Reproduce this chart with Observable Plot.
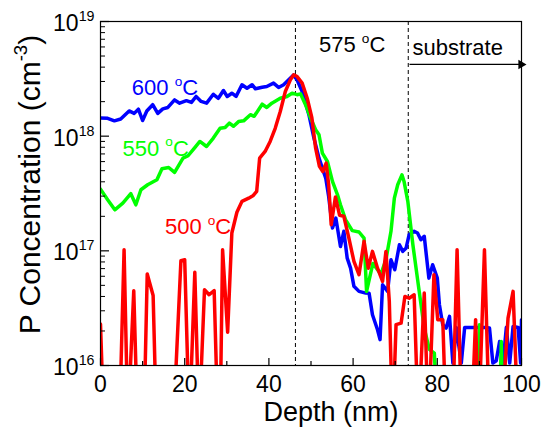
<!DOCTYPE html>
<html><head><meta charset="utf-8">
<script src="https://cdn.jsdelivr.net/npm/d3@7"></script>
<script src="https://cdn.jsdelivr.net/npm/@observablehq/plot@0.6"></script>
<style>html,body{margin:0;padding:0;background:#fff}svg{display:block}</style>
</head><body><div id="chart"></div>
<script>
// values below the 1e16 floor of the axis (drawn off-frame, clipped)
const LOW = 3e15;

// 600 °C profile
const depth600 = [0,1.7,3.3,4.8,6.8,8.0,9.0,10.0,11.0,12.4,13.6,14.8,16.0,17.6,18.8,20.4,21.6,22.7,23.9,25.2,26.8,28.0,29.2,30.1,31.2,32.2,33.6,34.8,36.0,36.8,38.4,39.5,41.1,42.3,43.5,44.7,45.8,46.6,47.9,49.5,50.7,51.9,52.7,53.5,54.2,55.1,55.9,57.0,57.8,58.6,59.4,60.2,61.4,63.0,63.8,64.6,65.8,66.4,67.0,68.2,69.0,69.9,71.0,71.8,72.6,73.3,74.5,75.3,76.1,76.9,78.0,78.9,80.0,80.5,81.3,82.1,82.9,83.7,84.5,85.7,86.5,88.5,91.2,92.4,93.2,94.0,94.8,95.6,96.4,97.2,98.0,99.2,99.8,100];
const conc600 = [1.44e18,1.43e18,1.36e18,1.41e18,1.66e18,1.58e18,1.72e18,1.37e18,1.66e18,1.88e18,1.58e18,1.73e18,1.78e18,2.07e18,1.94e18,2.04e18,1.97e18,2.22e18,2.01e18,1.94e18,2.32e18,2.14e18,2.50e18,2.22e18,2.37e18,2.22e18,2.81e18,2.62e18,2.81e18,2.59e18,2.67e18,2.71e18,2.90e18,2.66e18,2.81e18,3.10e18,3.40e18,3.15e18,2.45e18,1.54e18,9.62e17,6.43e17,5.26e17,4.31e17,2.98e17,1.58e17,1.93e17,1.09e17,1.48e17,8.63e16,7.06e16,4.90e16,4.43e16,4.28e16,4.26e16,2.77e16,2.05e16,1.68e16,5.06e16,4.43e16,8.36e16,6.84e16,1.13e17,9.89e16,1.06e17,1.38e17,1.48e17,1.43e17,1.25e17,1.34e17,5.78e16,7.57e16,5.78e16,3.39e16,2.27e16,2.12e16,2.68e16,1.05e16,2.15e16,1.05e16,2.15e16,2.15e16,2.15e16,2.12e16,1.05e16,1.10e16,1.62e16,1.05e16,2.15e16,1.05e16,2.19e16,2.15e16,1.05e16,2.50e16];

// 550 °C profile
const depth550 = [0,1.7,3.4,5.3,7.2,8.4,9.6,11.2,13.4,14.6,16.2,17.6,19.6,20.8,22.4,23.6,25.2,26.8,28.4,29.6,30.6,31.6,32.8,34.0,35.6,36.5,38.4,39.5,40.7,42.7,44.3,45.5,46.7,47.5,48.7,49.9,51.1,51.9,52.7,53.9,55.1,56.3,57.0,58.2,59.8,61.4,62.6,63.2,64.7,66.6,67.8,69.0,69.8,70.6,71.6,72.1,73.0,74.2,75.7,76.9,78.1,79.3,80.1,89.5,90.0,90.5,94.7,95.2,95.7,100];
const conc550 = [3.45e17,2.79e17,2.28e17,2.61e17,3.15e17,2.52e17,3.41e17,3.77e17,4.17e17,5.20e17,5.33e17,4.83e17,6.43e17,6.75e17,7.96e17,8.99e17,8.13e17,9.62e17,1.17e18,1.19e18,1.30e18,1.22e18,1.34e18,1.36e18,1.54e18,1.49e18,1.90e18,1.78e18,1.94e18,2.14e18,2.22e18,2.37e18,2.30e18,2.34e18,1.88e18,1.44e18,1.14e18,1.03e18,7.11e17,6.01e17,4.03e17,3.08e17,2.52e17,1.87e17,1.50e17,1.46e17,1.29e17,4.43e16,7.76e16,6.27e16,8.36e16,1.48e17,2.88e17,3.77e17,4.60e17,4.03e17,2.70e17,1.13e17,4.43e16,2.12e16,1.38e16,1.28e16,LOW,LOW,2.27e16,LOW,LOW,1.62e16,LOW,LOW];

// 500 °C profile
const depth500 = [0,0.8,4.5,5.6,6.5,7.9,8.8,10.3,11.1,12.5,13.3,17.3,19.1,20.0,21.1,22.4,23.4,24.7,25.8,27.0,27.9,28.4,29.0,30.2,31.2,32.4,33.6,35.2,36.3,37.1,37.8,39.1,40.3,41.5,42.7,43.9,45.1,45.9,46.7,47.9,49.1,50.2,51.1,52.0,52.8,53.6,54.2,54.8,55.8,56.8,57.8,59.0,60.2,61.4,62.6,63.6,64.6,65.8,67.0,67.8,68.6,69.4,70.2,71.4,72.3,73.3,74.5,75.5,76.9,77.9,79.2,80.1,81.3,82.1,83.6,84.7,85.8,88.1,89.1,89.8,91.2,92.4,95.2,96.8,98.0,99.2,100];
const conc500 = [2.30e16,LOW,LOW,1.02e17,LOW,4.49e16,LOW,LOW,6.27e16,4.08e16,LOW,LOW,8.20e16,8.36e16,LOW,6.49e16,LOW,4.58e16,4.14e16,4.49e16,LOW,LOW,1.02e17,1.95e16,1.43e17,2.17e17,2.70e17,2.88e17,3.04e17,3.30e17,6.43e17,7.36e17,8.99e17,1.17e18,1.64e18,2.45e18,3.10e18,3.43e18,3.31e18,2.90e18,2.14e18,1.45e18,7.85e17,5.45e17,4.92e17,5.82e17,3.77e17,1.69e17,2.95e17,2.04e17,2.00e17,1.29e17,8.09e16,6.19e16,1.21e17,7.06e16,9.89e16,7.06e16,5.41e16,9.89e16,3.62e16,LOW,2.27e16,2.34e16,4.00e16,3.86e16,4.14e16,LOW,4.28e16,LOW,6.19e16,2.51e16,2.51e16,LOW,LOW,1.02e17,LOW,LOW,2.51e16,LOW,1.02e17,LOW,LOW,2.59e16,4.43e16,LOW,LOW];

// region boundaries (nm) and tick values
const boundaries = [46.3, 73.1];
const xMajor = [0, 20, 40, 60, 80, 100];
const xMinor = [10, 30, 50, 70, 90];
const yMajor = [1e16, 1e17, 1e18, 1e19];
const yMinor = [];
for (const e of [16, 17, 18]) for (let k = 2; k <= 9; k++) yMinor.push(k * 10 ** e);

const W = 542, H = 427, mL = 100, mR = 21, mT = 21, mB = 62;
const frameW = W - mL - mR, frameH = H - mT - mB;
const rows = (xs, ys) => xs.map((x, i) => ({depth: x, conc: ys[i]}));
const series = [
  {color: "#0000ff", data: rows(depth600, conc600)},
  {color: "#00ff00", data: rows(depth550, conc550)},
  {color: "#ff0000", data: rows(depth500, conc500)}
];

const labels = [
  {t: "600 ^{o}C", x: 7.44, y: 2.27e18, c: "#0000ff"},
  {t: "550 ^{o}C", x: 5.23, y: 6.78e17, c: "#00ff00"},
  {t: "500 ^{o}C", x: 15.3, y: 1.39e17, c: "#ff0000"},
  {t: "575 ^{o}C", x: 51.9, y: 5.40e18, c: "black"},
  {t: "substrate", x: 74.1, y: 5.13e18, c: "black"}
];

const plot = Plot.plot({
  width: W, height: H,
  marginLeft: mL, marginRight: mR, marginTop: mT, marginBottom: mB,
  style: {fontFamily: "Arial, 'Liberation Sans', Helvetica, sans-serif", fontSize: "23px", color: "black", background: "white", overflow: "visible"},
  x: {domain: [0, 100]},
  y: {type: "log", domain: [1e16, 1e19]},
  marks: [
    Plot.ruleX(boundaries, {stroke: "black", strokeWidth: 1, strokeDasharray: "4,3"}),
    ...series.map(s => Plot.line(s.data, {x: "depth", y: "conc", stroke: s.color, strokeWidth: 3.5, clip: true})),
    Plot.ruleX(xMajor, {insetTop: frameH - 7, stroke: "black", strokeWidth: 1.2}),
    Plot.ruleX(xMinor, {insetTop: frameH - 4, stroke: "black", strokeWidth: 1.2}),
    Plot.ruleY(yMajor, {insetRight: frameW - 9, stroke: "black", strokeWidth: 1.2}),
    Plot.ruleY(yMinor, {insetRight: frameW - 5, stroke: "black", strokeWidth: 1}),
    Plot.frame({stroke: "black", strokeWidth: 1.2}),
    Plot.axisX({ticks: xMajor, tickSize: 0, tickPadding: 10, label: null, fontSize: 23}),
    Plot.axisY({ticks: yMajor, tickSize: 0, tickPadding: 6, label: null, fontSize: 23, dy: 2,
      tickFormat: d => `10^{${Math.round(Math.log10(d))}}`}),
    Plot.text(["Depth (nm)"], {frameAnchor: "bottom", lineAnchor: "bottom", textAnchor: "middle", dx: 20, dy: 55, fontSize: 27}),
    Plot.text(["P Concentration (cm^{-3})"], {frameAnchor: "left", textAnchor: "middle", lineAnchor: "middle", rotate: -90, dx: -70, dy: -9, fontSize: 30}),
    Plot.text(labels, {x: "x", y: "y", text: "t", fill: "c", fontSize: 22, textAnchor: "start", lineAnchor: "bottom"}),
    Plot.link([{x1: 73.4, x2: 99.4, y: 4.22e18}], {x1: "x1", x2: "x2", y1: "y", y2: "y", stroke: "black", strokeWidth: 1.3}),
    Plot.dot([{x: 99.9, y: 4.22e18}], {x: "x", y: "y", symbol: "triangle", rotate: 90, r: 3.5, fill: "black", stroke: "none"})
  ]
});

document.getElementById("chart").appendChild(plot);

// turn "^{...}" into superscript tspans (real text)
function supify(root) {
  const ns = "http://www.w3.org/2000/svg";
  root.querySelectorAll("text").forEach(t => {
    const s = t.textContent;
    if (!s.includes("^{")) return;
    while (t.firstChild) t.removeChild(t.firstChild);
    const re = /\^\{([^}]*)\}/g;
    let last = 0, m, raised = false;
    const addNormal = str => {
      const ts = document.createElementNS(ns, "tspan");
      ts.textContent = str;
      if (raised) ts.setAttribute("dy", "0.434em");
      raised = false;
      t.appendChild(ts);
    };
    while ((m = re.exec(s))) {
      if (m.index > last) addNormal(s.slice(last, m.index));
      const sup = document.createElementNS(ns, "tspan");
      sup.setAttribute("font-size", "62%");
      sup.setAttribute("dy", "-0.7em");
      sup.textContent = m[1];
      t.appendChild(sup);
      raised = true;
      last = re.lastIndex;
    }
    if (last < s.length) addNormal(s.slice(last));
  });
}
supify(plot);
</script>
</body></html>
